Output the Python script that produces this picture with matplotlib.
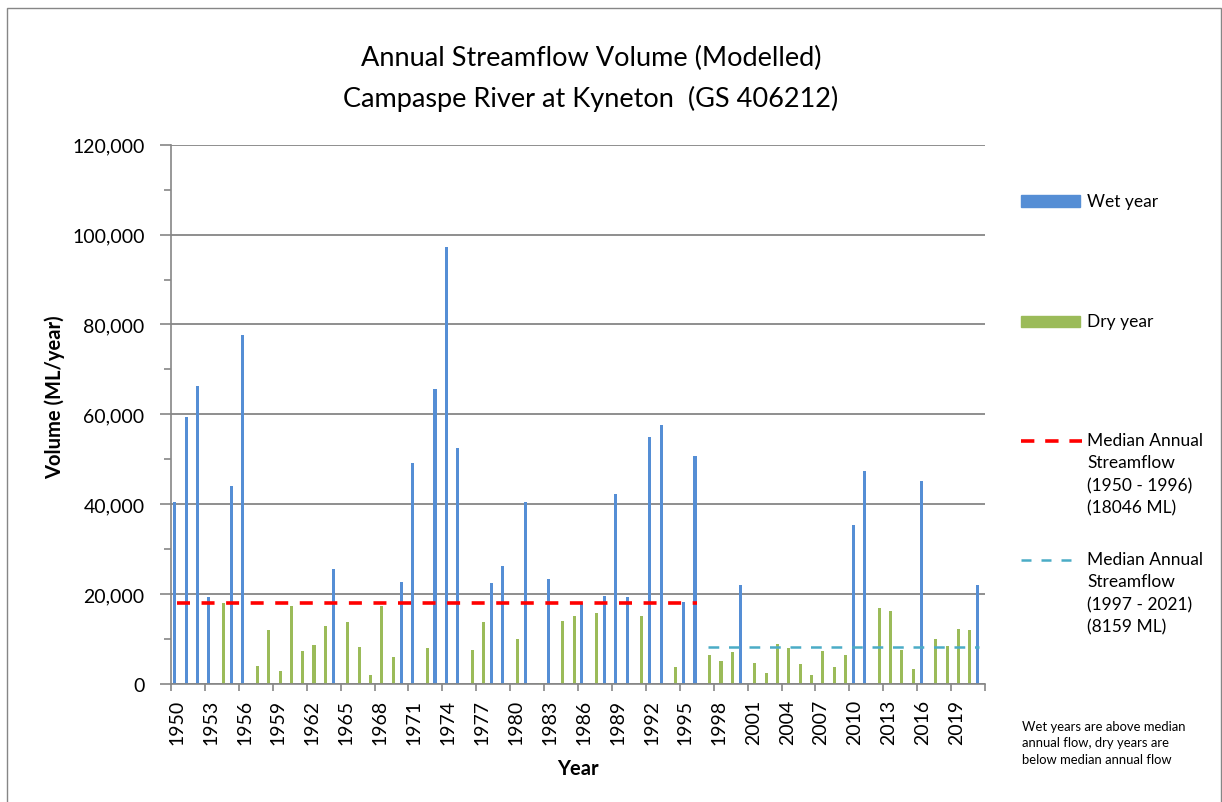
import numpy as np
import matplotlib.pyplot as plt
from matplotlib.lines import Line2D
from matplotlib.patches import Rectangle

plt.rcParams['font.family'] = ['Lato', 'DejaVu Sans']

years = list(range(1950, 2022))

# annual volume (ML/year), 0 where the year belongs to the other series
wet = [40600, 59400, 66400, 19400, 0, 44100, 77600, 0, 0, 0,
       0, 0, 0, 0, 25500, 0, 0, 0, 0, 0,
       22700, 49200, 0, 65600, 97300, 52500, 0, 0, 22400, 26300,
       0, 40400, 0, 23300, 0, 0, 18100, 0, 19600, 42200,
       19300, 0, 55000, 57700, 0, 18300, 50800, 0, 0, 0,
       22100, 0, 0, 0, 0, 0, 0, 0, 0, 0,
       35400, 47500, 0, 0, 0, 0, 45100, 0, 0, 0,
       0, 22100]
dry = [0, 0, 0, 0, 18000, 0, 0, 4100, 12000, 3000,
       17350, 7300, 8600, 12900, 0, 13800, 8300, 1900, 17450, 5900,
       0, 0, 8100, 0, 0, 0, 7600, 13800, 0, 0,
       10000, 0, 250, 0, 14000, 15200, 0, 15700, 0, 0,
       0, 15200, 0, 0, 3800, 0, 0, 6450, 5100, 7100,
       0, 4700, 2450, 8850, 7950, 4450, 2050, 7250, 3800, 6550,
       0, 0, 16800, 16300, 7500, 3250, 0, 10100, 8500, 12200,
       11950, 0]

median_early = 18046   # 1950 - 1996
median_late = 8159     # 1997 - 2021
early_years = (1950, 1996)
late_years = (1997, 2021)

wet_color = '#558ED5'
dry_color = '#9BBB59'
red = '#FF0000'
cyan = '#4BACC6'
grey = '#868686'

W, H = 1222, 803
fig = plt.figure(figsize=(W / 100, H / 100), dpi=100)


def fx(x):
    return x / W


def fy(y):
    return 1 - y / H


ax = fig.add_axes([fx(171), fy(685), fx(985 - 171), (685 - 145.7) / H])

idx = np.arange(len(years))
ax.bar(idx - 0.15, wet, width=0.27, color=wet_color, zorder=2)
ax.bar(idx + 0.15, dry, width=0.27, color=dry_color, zorder=2)

e0 = years.index(early_years[0])
e1 = years.index(early_years[1])
l0 = years.index(late_years[0])
l1 = years.index(late_years[1])
ax.plot(idx[e0:e1 + 1], [median_early] * (e1 - e0 + 1), color=red, lw=2.6,
        dashes=(3.6, 3.2), solid_capstyle='butt', zorder=3)
ax.plot(idx[l0:l1 + 1], [median_late] * (l1 - l0 + 1), color=cyan, lw=1.8,
        dashes=(4.3, 3.9), zorder=3)

ax.set_xlim(-0.5, len(years) - 0.5)
ax.set_ylim(0, 120000)

ax.set_xticks(idx[::3])
ax.set_xticklabels([str(y) for y in years[::3]], rotation=90, fontsize=14)
ax.set_xticks(np.arange(-0.5, len(years), 3), minor=True)
ax.tick_params(axis='x', which='major', length=0, pad=10.5)
ax.tick_params(axis='x', which='minor', length=5, color=grey, width=1.2)

ax.set_yticks(np.arange(0, 120001, 20000))
ax.set_yticklabels(['{:,}'.format(v) for v in range(0, 120001, 20000)], fontsize=14)
ax.set_yticks(np.arange(0, 120001, 10000), minor=True)
ax.tick_params(axis='y', which='major', length=8, color=grey, width=1.2, pad=11)
ax.tick_params(axis='y', which='minor', length=5, color=grey, width=1.2)

ax.yaxis.grid(True, color=grey, lw=1.3)
ax.set_axisbelow(True)
for s in ['top', 'right']:
    ax.spines[s].set_visible(False)
for s in ['left', 'bottom']:
    ax.spines[s].set_color(grey)
    ax.spines[s].set_linewidth(1.2)

fig.text(fx(55), fy(397), 'Volume (ML/year)', rotation=90, fontsize=14.5,
         fontweight='bold', ha='center', va='center')
fig.text(fx(578), fy(769), 'Year', fontsize=14.5, fontweight='bold',
         ha='center', va='center')

fig.text(fx(591), fy(58), 'Annual Streamflow Volume (Modelled)', fontsize=19.5,
         ha='center', va='center')
fig.text(fx(591), fy(99), 'Campaspe River at Kyneton  (GS 406212)', fontsize=19.5,
         ha='center', va='center')

# legend, laid out like the Excel one
fig.add_artist(Rectangle((fx(1021), fy(207.5)), fx(59), 11 / H,
                         transform=fig.transFigure, color=wet_color))
fig.text(fx(1087), fy(202), 'Wet year', fontsize=12.5, va='center')
fig.add_artist(Rectangle((fx(1021), fy(327.5)), fx(59), 11 / H,
                         transform=fig.transFigure, color=dry_color))
fig.text(fx(1087), fy(322), 'Dry year', fontsize=12.5, va='center')

fig.add_artist(Line2D([fx(1021), fx(1082)], [fy(442), fy(442)], color=red,
                      lw=2.6, dashes=(3.7, 3.0), transform=fig.transFigure))
fig.text(fx(1087), fy(433), 'Median Annual\nStreamflow\n(%d - %d)\n(%d ML)'
         % (early_years[0], early_years[1], median_early),
         fontsize=12.5, va='top', linespacing=1.5)
fig.add_artist(Line2D([fx(1021), fx(1071)], [fy(561), fy(561)], color=cyan,
                      lw=1.8, dashes=(4.0, 4.0), transform=fig.transFigure))
fig.text(fx(1087), fy(552), 'Median Annual\nStreamflow\n(%d - %d)\n(%d ML)'
         % (late_years[0], late_years[1], median_late),
         fontsize=12.5, va='top', linespacing=1.5)

fig.text(fx(1022), fy(721), 'Wet years are above median\nannual flow, dry years are\n'
         'below median annual flow', fontsize=9.4, va='top', linespacing=1.45)

# chart area border
fig.add_artist(Rectangle((fx(7.5), fy(830)), fx(1213.5), (830 - 9) / H,
                         transform=fig.transFigure, fill=False, edgecolor=grey,
                         lw=1.0, clip_on=False))

fig.savefig('out.png', dpi=100)
